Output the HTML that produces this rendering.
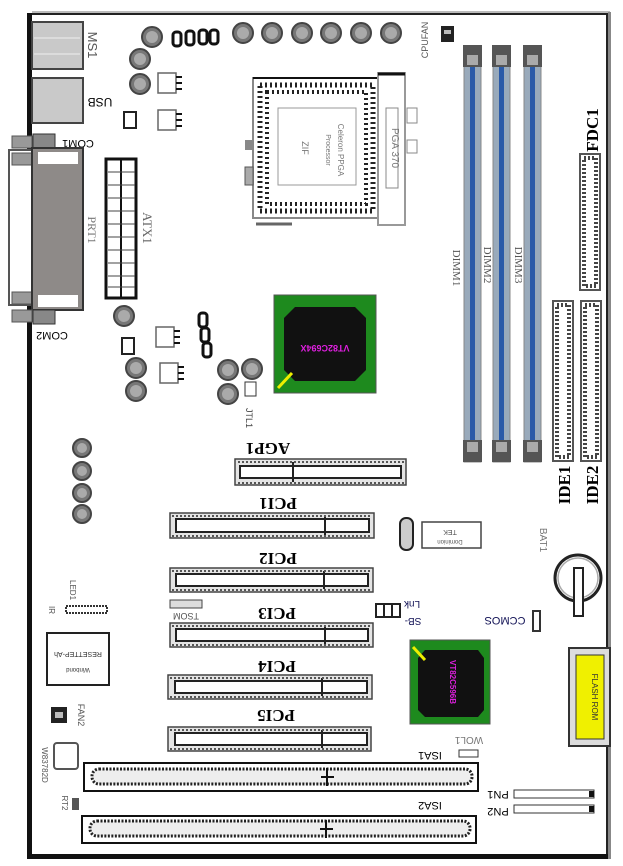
<!DOCTYPE html>
<html><head><meta charset="utf-8"><style>
html,body{margin:0;padding:0;background:#fff;}
svg{display:block;}
text{font-family:"Liberation Serif",serif;}
.s{font-family:"Liberation Sans",sans-serif;}
</style></head><body>
<svg width="623" height="866" viewBox="0 0 623 866" xmlns="http://www.w3.org/2000/svg">
<defs>
<g id="cap"><circle r="10" fill="#777" stroke="#444" stroke-width="2"/><circle r="6" fill="#aaa"/></g>
<g id="scap"><circle r="9" fill="#777" stroke="#444" stroke-width="2"/><circle r="5" fill="#aaa"/></g>
<g id="mos"><rect x="0" y="0" width="18" height="20" fill="#fff" stroke="#666" stroke-width="1.5"/><path d="M18 4h6M18 10h6M18 16h6" stroke="#111" stroke-width="2"/></g>
<g id="coil"><rect x="0" y="0" width="8" height="14" rx="3" fill="none" stroke="#111" stroke-width="3"/></g>
</defs>
<!-- board border -->
<rect x="26" y="10" width="584" height="850" fill="#fff"/>
<path d="M29 14 H607 V857 H29 Z" fill="none" stroke="#222" stroke-width="2"/>
<rect x="27" y="13" width="5" height="846" fill="#111"/>
<rect x="27" y="854" width="583" height="5" fill="#111"/>
<rect x="32" y="11" width="578" height="2" fill="#bbb"/>
<rect x="608" y="12" width="3" height="847" fill="#888"/>

<!-- PS2 / USB -->
<rect x="32" y="22" width="51" height="47" fill="#c9c9c9" stroke="#444" stroke-width="2"/>
<path d="M34 38h46M34 54h46" stroke="#eee" stroke-width="1"/>
<rect x="32" y="78" width="51" height="45" fill="#c9c9c9" stroke="#444" stroke-width="2"/>
<text transform="translate(88,45) rotate(90)" font-size="13" fill="#555" text-anchor="middle" class="s">MS1</text>
<text transform="translate(100,98) rotate(180)" font-size="12" fill="#000" text-anchor="middle" class="s">USB</text>
<!-- COM1 / PRT1 / COM2 -->
<rect x="12" y="136" width="20" height="12" fill="#999" stroke="#555"/>
<rect x="33" y="134" width="22" height="14" fill="#888" stroke="#333"/>
<text transform="translate(78,140) rotate(180)" font-size="11" text-anchor="middle" class="s">COM1</text>
<rect x="9" y="150" width="23" height="155" fill="#fff" stroke="#555" stroke-width="2"/>
<rect x="12" y="153" width="20" height="12" fill="#999" stroke="#555"/>
<rect x="12" y="292" width="20" height="12" fill="#999" stroke="#555"/>
<rect x="32" y="148" width="51" height="162" fill="#8e8a88" stroke="#333" stroke-width="2"/>
<rect x="38" y="152" width="40" height="12" fill="#fff"/>
<rect x="38" y="295" width="40" height="12" fill="#fff"/>
<rect x="12" y="310" width="20" height="12" fill="#999" stroke="#555"/>
<rect x="33" y="310" width="22" height="14" fill="#888" stroke="#333"/>
<text transform="translate(52,332) rotate(180)" font-size="11" text-anchor="middle" class="s">COM2</text>
<text transform="translate(88,230) rotate(90)" font-size="12" fill="#777" text-anchor="middle">PRT1</text>
<!-- ATX1 -->
<rect x="106" y="159" width="30" height="139" fill="#fff" stroke="#111" stroke-width="3"/>
<path d="M121 159V298" stroke="#111" stroke-width="2"/>
<path d="M108 172h27M108 185h27M108 198h27M108 211h27M108 224h27M108 237h27M108 250h27M108 263h27M108 276h27M108 287h27" stroke="#444"/>
<text transform="translate(143,228) rotate(90)" font-size="13" fill="#666" text-anchor="middle">ATX1</text>

<!-- power section top -->
<use href="#cap" x="152" y="37"/><use href="#cap" x="140" y="59"/><use href="#cap" x="140" y="84"/>
<use href="#coil" x="173" y="32"/><use href="#coil" x="186" y="31"/><use href="#coil" x="199" y="30"/><use href="#coil" x="210" y="30"/>
<use href="#mos" x="158" y="73"/><use href="#mos" x="158" y="110"/>
<rect x="124" y="112" width="12" height="16" fill="#fff" stroke="#222" stroke-width="2"/>
<!-- top caps -->
<use href="#cap" x="243" y="33"/><use href="#cap" x="272" y="33"/><use href="#cap" x="302" y="33"/><use href="#cap" x="331" y="33"/><use href="#cap" x="361" y="33"/><use href="#cap" x="391" y="33"/>
<!-- CPUFAN -->
<rect x="441" y="26" width="13" height="16" fill="#222"/>
<rect x="444" y="30" width="7" height="4" fill="#bbb"/>
<text transform="translate(428,40) rotate(-90)" font-size="9" fill="#555" text-anchor="middle" class="s">CPUFAN</text>

<!-- CPU socket -->
<rect x="253" y="78" width="127" height="140" fill="#fff" stroke="#888" stroke-width="2"/>
<rect x="260" y="85" width="113" height="126" fill="none" stroke="#222" stroke-width="5" stroke-dasharray="2 3"/>
<rect x="267" y="92" width="99" height="112" fill="none" stroke="#222" stroke-width="4" stroke-dasharray="2 3"/>
<rect x="278" y="108" width="78" height="77" fill="#fff" stroke="#999"/>
<path d="M253 78H378" stroke="#111" stroke-width="2"/>
<rect x="378" y="73" width="27" height="152" fill="#fff" stroke="#999" stroke-width="2"/>
<path d="M378 74h27" stroke="#111" stroke-width="3"/>
<rect x="386" y="108" width="12" height="80" fill="#fff" stroke="#888"/>
<text transform="translate(392,148) rotate(90)" font-size="10" fill="#777" text-anchor="middle" class="s">PGA 370</text>
<text transform="translate(338,150) rotate(90)" font-size="8" fill="#777" text-anchor="middle" class="s">Celeron PPGA</text>
<text transform="translate(326,150) rotate(90)" font-size="7" fill="#777" text-anchor="middle" class="s">Processor</text>
<text transform="translate(302,148) rotate(90)" font-size="9" fill="#777" text-anchor="middle" class="s">ZIF</text>
<rect x="407" y="108" width="10" height="15" fill="#fff" stroke="#888"/>
<rect x="407" y="140" width="10" height="13" fill="#fff" stroke="#888"/>
<rect x="245" y="140" width="8" height="10" fill="#888"/>
<rect x="245" y="167" width="8" height="18" fill="#aaa" stroke="#555"/>
<path d="M256 224H292" stroke="#666" stroke-width="3"/>

<!-- DIMMs -->
<g>
<rect x="464" y="52" width="17" height="410" fill="#9ab" stroke="#888"/>
<rect x="470" y="52" width="5" height="410" fill="#2a5aa8"/>
<rect x="463" y="45" width="19" height="22" fill="#555"/><rect x="467" y="55" width="11" height="10" fill="#aaa"/>
<rect x="463" y="440" width="19" height="22" fill="#555"/><rect x="467" y="442" width="11" height="10" fill="#aaa"/>
<rect x="493" y="52" width="17" height="410" fill="#9ab" stroke="#888"/>
<rect x="499" y="52" width="5" height="410" fill="#2a5aa8"/>
<rect x="492" y="45" width="19" height="22" fill="#555"/><rect x="496" y="55" width="11" height="10" fill="#aaa"/>
<rect x="492" y="440" width="19" height="22" fill="#555"/><rect x="496" y="442" width="11" height="10" fill="#aaa"/>
<rect x="524" y="52" width="17" height="410" fill="#9ab" stroke="#888"/>
<rect x="530" y="52" width="5" height="410" fill="#2a5aa8"/>
<rect x="523" y="45" width="19" height="22" fill="#555"/><rect x="527" y="55" width="11" height="10" fill="#aaa"/>
<rect x="523" y="440" width="19" height="22" fill="#555"/><rect x="527" y="442" width="11" height="10" fill="#aaa"/>
</g>
<text transform="translate(453,268) rotate(90)" font-size="11" fill="#555" text-anchor="middle">DIMM1</text>
<text transform="translate(484,265) rotate(90)" font-size="11" fill="#555" text-anchor="middle">DIMM2</text>
<text transform="translate(515,265) rotate(90)" font-size="11" fill="#555" text-anchor="middle">DIMM3</text>

<!-- FDC/IDE -->
<rect x="580" y="154" width="20" height="136" fill="#fff" stroke="#555" stroke-width="2"/>
<rect x="584" y="158" width="12" height="128" fill="none" stroke="#444" stroke-width="4" stroke-dasharray="2 2"/>
<text transform="translate(598,130) rotate(-90)" font-size="17" font-weight="bold" text-anchor="middle">FDC1</text>
<rect x="553" y="301" width="20" height="160" fill="#fff" stroke="#555" stroke-width="2"/>
<rect x="557" y="305" width="12" height="152" fill="none" stroke="#444" stroke-width="4" stroke-dasharray="2 2"/>
<rect x="581" y="301" width="20" height="160" fill="#fff" stroke="#555" stroke-width="2"/>
<rect x="585" y="305" width="12" height="152" fill="none" stroke="#444" stroke-width="4" stroke-dasharray="2 2"/>
<text transform="translate(570,485) rotate(-90)" font-size="17" font-weight="bold" text-anchor="middle">IDE1</text>
<text transform="translate(598,485) rotate(-90)" font-size="17" font-weight="bold" text-anchor="middle">IDE2</text>

<!-- North bridge -->
<rect x="274" y="295" width="102" height="98" fill="#1e8a1e" stroke="#555"/>
<path d="M295 307H355L366 318V370L355 381H295L284 370V318Z" fill="#111"/>
<text transform="translate(325,345) rotate(180)" font-size="9" fill="#e020e0" text-anchor="middle" font-weight="bold" class="s">VT82C694X</text>
<path d="M278 388L292 373" stroke="#ee0" stroke-width="3"/>
<!-- VRM lower -->
<use href="#cap" x="124" y="316"/><use href="#cap" x="136" y="368"/><use href="#cap" x="136" y="391"/>
<use href="#mos" x="156" y="327"/><use href="#mos" x="160" y="363"/>
<rect x="122" y="338" width="12" height="16" fill="#fff" stroke="#222" stroke-width="2"/>
<use href="#coil" x="199" y="313"/><use href="#coil" x="201" y="328"/><use href="#coil" x="203" y="343"/>
<use href="#cap" x="228" y="370"/><use href="#cap" x="252" y="369"/><use href="#cap" x="228" y="394"/>
<rect x="245" y="382" width="11" height="14" fill="#fff" stroke="#333"/>
<text transform="translate(246,418) rotate(90)" font-size="9" fill="#444" text-anchor="middle" class="s">JTL1</text>

<!-- left caps -->
<use href="#scap" x="82" y="448"/><use href="#scap" x="82" y="471"/><use href="#scap" x="82" y="493"/><use href="#scap" x="82" y="514"/>

<!-- slots -->
<g fill="#e4e4e4" stroke="#444" stroke-width="1.5">
<rect x="235" y="459" width="171" height="26"/>
<rect x="170" y="513" width="204" height="25"/>
<rect x="170" y="568" width="203" height="24"/>
<rect x="170" y="623" width="203" height="24"/>
<rect x="168" y="675" width="204" height="24"/>
<rect x="168" y="727" width="203" height="24"/>
</g>
<g fill="#fff" stroke="#222" stroke-width="2">
<rect x="240" y="466" width="161" height="12"/>
<rect x="176" y="519" width="193" height="13"/>
<rect x="176" y="574" width="192" height="12"/>
<rect x="176" y="629" width="192" height="12"/>
<rect x="175" y="681" width="192" height="12"/>
<rect x="175" y="733" width="192" height="12"/>
</g>
<g stroke="#222" stroke-width="2">
<path d="M293 462V482"/><path d="M325 516V535M324 571V589M325 626V644M322 678V696M322 730V748"/>
</g>
<g stroke="#555" stroke-width="2" stroke-dasharray="2 2" fill="none">
<path d="M238 462H404M238 483H404M172 516H372M172 536H372M172 571H371M172 590H371M172 626H371M172 645H371M170 678H370M170 697H370M170 730H369M170 749H369"/>
</g>
<g font-size="17" font-weight="bold" text-anchor="middle">
<text transform="translate(268,443) rotate(180)">AGP1</text>
<text transform="translate(278,498) rotate(180)">PCI1</text>
<text transform="translate(278,553) rotate(180)">PCI2</text>
<text transform="translate(277,608) rotate(180)">PCI3</text>
<text transform="translate(277,661) rotate(180)">PCI4</text>
<text transform="translate(276,710) rotate(180)">PCI5</text>
</g>
<!-- ISA -->
<rect x="84" y="763" width="394" height="28" fill="#fff" stroke="#111" stroke-width="2"/>
<rect x="92" y="769" width="380" height="15" rx="7" fill="#eee" stroke="#222" stroke-width="3" stroke-dasharray="2 1.5"/>
<path d="M327 768V786M321 777H334" stroke="#111" stroke-width="2"/>
<rect x="82" y="816" width="394" height="27" fill="#fff" stroke="#111" stroke-width="2"/>
<rect x="90" y="821" width="380" height="15" rx="7" fill="#eee" stroke="#222" stroke-width="3" stroke-dasharray="2 1.5"/>
<path d="M326 820V838M320 829H333" stroke="#111" stroke-width="2"/>
<text transform="translate(430,752) rotate(180)" font-size="11" text-anchor="middle" class="s">ISA1</text>
<text transform="translate(430,802) rotate(180)" font-size="11" text-anchor="middle" class="s">ISA2</text>

<!-- TEK area -->
<rect x="400" y="518" width="13" height="32" rx="6" fill="#ccc" stroke="#222" stroke-width="2"/>
<rect x="422" y="522" width="59" height="26" fill="#fff" stroke="#444" stroke-width="1.5"/>
<text transform="translate(450,530) rotate(180)" font-size="7" fill="#555" text-anchor="middle" class="s">TEK</text>
<text transform="translate(450,540) rotate(180)" font-size="6" fill="#555" text-anchor="middle" class="s">Dominion</text>
<text transform="translate(540,540) rotate(90)" font-size="10" fill="#777" text-anchor="middle" class="s">BAT1</text>
<circle cx="578" cy="578" r="23" fill="#fff" stroke="#222" stroke-width="3"/>
<circle cx="578" cy="578" r="20" fill="none" stroke="#aaa" stroke-width="1.5"/>
<rect x="574" y="568" width="9" height="48" fill="#fff" stroke="#222" stroke-width="2"/>
<!-- SB-Lnk / CCMOS -->
<rect x="376" y="604" width="24" height="13" fill="#fff" stroke="#222" stroke-width="2"/>
<path d="M384 604V617M392 604V617" stroke="#222" stroke-width="2"/>
<text transform="translate(412,601) rotate(180)" font-size="10" fill="#115" text-anchor="middle" class="s">Lnk</text>
<text transform="translate(413,618) rotate(180)" font-size="10" fill="#115" text-anchor="middle" class="s">SB-</text>
<text transform="translate(505,617) rotate(180)" font-size="11" fill="#115" text-anchor="middle" class="s">CCMOS</text>
<rect x="533" y="611" width="7" height="20" fill="#fff" stroke="#333" stroke-width="2"/>
<!-- South bridge -->
<rect x="410" y="640" width="80" height="84" fill="#1e8a1e" stroke="#555"/>
<path d="M425 650H478L484 658V710L478 717H425L418 710V658Z" fill="#111"/>
<text transform="translate(450,682) rotate(90)" font-size="8" fill="#e020e0" text-anchor="middle" font-weight="bold" class="s">VT82C596B</text>
<path d="M413 647L425 660" stroke="#ee0" stroke-width="3"/>
<!-- Flash -->
<rect x="569" y="648" width="41" height="98" fill="#ddd" stroke="#333" stroke-width="2"/>
<rect x="576" y="655" width="28" height="84" fill="#f0f000" stroke="#333"/>
<text transform="translate(592,697) rotate(90)" font-size="8" fill="#333" text-anchor="middle" class="s">FLASH ROM</text>
<!-- WOL -->
<text transform="translate(469,737) rotate(180)" font-size="10" fill="#777" text-anchor="middle" class="s">WOL1</text>
<rect x="459" y="750" width="19" height="7" fill="#fff" stroke="#333"/>
<!-- PN -->
<rect x="514" y="790" width="80" height="8" fill="#fff" stroke="#333"/><rect x="589" y="791" width="5" height="6" fill="#111"/>
<rect x="514" y="805" width="80" height="8" fill="#fff" stroke="#333"/><rect x="589" y="806" width="5" height="6" fill="#111"/>
<text transform="translate(498,791) rotate(180)" font-size="11" text-anchor="middle" class="s">PN1</text>
<text transform="translate(498,808) rotate(180)" font-size="11" text-anchor="middle" class="s">PN2</text>
<!-- left bottom -->
<rect x="170" y="600" width="32" height="8" fill="#ddd" stroke="#444"/>
<text transform="translate(186,613) rotate(180)" font-size="9" fill="#555" text-anchor="middle" class="s">TSOM</text>
<rect x="66" y="606" width="41" height="7" fill="#fff" stroke="#333" stroke-width="2" stroke-dasharray="2 1"/>
<text transform="translate(49,610) rotate(90)" font-size="8" fill="#555" text-anchor="middle" class="s">IR</text>
<text transform="translate(70,590) rotate(90)" font-size="8" fill="#555" text-anchor="middle" class="s">LED1</text>
<rect x="47" y="633" width="62" height="52" fill="#fff" stroke="#222" stroke-width="2"/>
<text transform="translate(78,652) rotate(180)" font-size="7" fill="#333" text-anchor="middle" class="s">RESETTEP-Ah</text>
<text transform="translate(78,668) rotate(180)" font-size="6" fill="#333" text-anchor="middle" class="s">Winbond</text>
<rect x="51" y="707" width="16" height="16" fill="#222"/><rect x="55" y="712" width="8" height="6" fill="#bbb"/>
<text transform="translate(78,715) rotate(90)" font-size="9" fill="#555" text-anchor="middle" class="s">FAN2</text>
<rect x="54" y="743" width="24" height="26" rx="3" fill="#fff" stroke="#555" stroke-width="2"/>
<text transform="translate(42,765) rotate(90)" font-size="8" fill="#555" text-anchor="middle" class="s">W83782D</text>
<text transform="translate(62,803) rotate(90)" font-size="8" fill="#555" text-anchor="middle" class="s">RT2</text>
<rect x="72" y="798" width="7" height="12" fill="#555"/>
</svg>
</body></html>
